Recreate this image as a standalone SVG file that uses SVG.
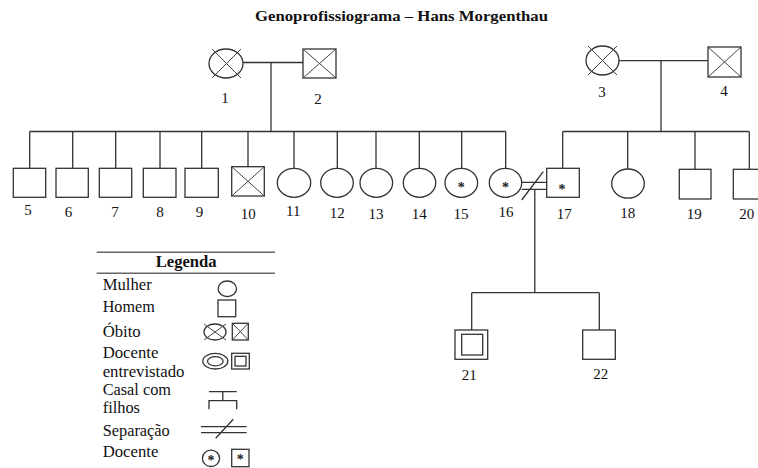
<svg xmlns="http://www.w3.org/2000/svg" width="758" height="468" viewBox="0 0 758 468">
  <style>
    .ln { stroke:#333; stroke-width:1.3; fill:none; }
    .nd { stroke:#333; stroke-width:1.3; fill:#fff; }
    .x { stroke:#444; stroke-width:1; fill:none; }
    .num { font-family:"Liberation Serif","Times New Roman",serif; font-size:15px; fill:#111; text-anchor:middle; }
    .star { font-family:"Liberation Serif","Times New Roman",serif; font-size:14px; font-weight:bold; fill:#222; text-anchor:middle; }
    .lg { font-family:"Liberation Serif","Times New Roman",serif; font-size:16px; fill:#111; }
    .title { font-family:"Liberation Serif","Times New Roman",serif; font-size:15px; font-weight:bold; fill:#111; }
  </style>

  <text class="title" x="255" y="21" textLength="293" lengthAdjust="spacingAndGlyphs">Genoprofissiograma – Hans Morgenthau</text>

  <!-- connectors -->
  <g id="connectors">
    <!-- couple 1-2 and their children -->
    <path class="ln" d="M243 62.5H303 M271 62.5V131.5 M29.7 131.5H505.7"/>
    <path class="ln" d="M29.7 131.5V168.3 M72.7 131.5V168.3 M115.7 131.5V168.3 M160 131.5V168.3 M201.7 131.5V168.3 M248 131.5V166.7 M294 131.5V168.3 M337.3 131.5V168.3 M376 131.5V168.3 M419.3 131.5V168.3 M461.7 131.5V168.3 M505.7 131.5V168.3"/>
    <!-- couple 3-4 and their children -->
    <path class="ln" d="M619 60.7H708 M661 60.7V131.5 M562.7 131.5H749.3"/>
    <path class="ln" d="M562.7 131.5V168.3 M627.7 131.5V169 M695 131.5V169.3 M749.3 131.5V169.3"/>
    <!-- separated couple 16-17 -->
    <path class="ln" d="M521.7 182.3H546.7 M521.7 189.3H546.7 M521.7 200L543.3 171.7"/>
    <!-- children of 16-17 -->
    <path class="ln" d="M534.8 189.3V292.7 M471.7 292.7H599.3 M471.7 292.7V330 M599.3 292.7V330"/>
  </g>

  <!-- first generation -->
  <g id="n1">
    <ellipse class="nd" cx="226" cy="63.5" rx="17" ry="14.5"/>
    <path class="x" d="M212 49L241 78 M241 49L212 78"/>
    <text class="num" x="225" y="103">1</text>
  </g>
  <g id="n2">
    <rect class="nd" x="303" y="49" width="33" height="29"/>
    <path class="x" d="M303 49L336 78 M336 49L303 78"/>
    <text class="num" x="318" y="104">2</text>
  </g>
  <g id="n3">
    <ellipse class="nd" cx="602.5" cy="60.5" rx="16.5" ry="14.5"/>
    <path class="x" d="M588 46L617 75 M617 46L588 75"/>
    <text class="num" x="602" y="97">3</text>
  </g>
  <g id="n4">
    <rect class="nd" x="708" y="47" width="33" height="30"/>
    <path class="x" d="M708 47L741 77 M741 47L708 77"/>
    <text class="num" x="724" y="96">4</text>
  </g>

  <!-- second generation -->
  <g id="n5"><rect class="nd" x="13.3" y="168.3" width="32.4" height="29"/><text class="num" x="28" y="214.5">5</text></g>
  <g id="n6"><rect class="nd" x="56" y="168.3" width="32.3" height="29"/><text class="num" x="68.5" y="217">6</text></g>
  <g id="n7"><rect class="nd" x="99.3" y="168.3" width="32.4" height="29"/><text class="num" x="115" y="217.3">7</text></g>
  <g id="n8"><rect class="nd" x="143.3" y="168.3" width="32.7" height="29"/><text class="num" x="160" y="217.3">8</text></g>
  <g id="n9"><rect class="nd" x="185" y="168.3" width="33.3" height="29"/><text class="num" x="199.5" y="217.3">9</text></g>
  <g id="n10">
    <rect class="nd" x="231.7" y="166.7" width="32.6" height="29.3"/>
    <path class="x" d="M231.7 166.7L264.3 196 M264.3 166.7L231.7 196"/>
    <text class="num" x="248.3" y="219.3">10</text>
  </g>
  <g id="n11"><ellipse class="nd" cx="294" cy="182.8" rx="16.7" ry="14.5"/><text class="num" x="293.3" y="216">11</text></g>
  <g id="n12"><ellipse class="nd" cx="337" cy="182.8" rx="16.3" ry="14.5"/><text class="num" x="337.3" y="217.7">12</text></g>
  <g id="n13"><ellipse class="nd" cx="376.3" cy="182.8" rx="16.3" ry="14.5"/><text class="num" x="376" y="219">13</text></g>
  <g id="n14"><ellipse class="nd" cx="419.5" cy="182.8" rx="16.2" ry="14.5"/><text class="num" x="419.3" y="219">14</text></g>
  <g id="n15">
    <ellipse class="nd" cx="461.3" cy="182.8" rx="16.3" ry="14.5"/>
    <text class="star" x="461.3" y="191.5">*</text>
    <text class="num" x="461" y="219">15</text>
  </g>
  <g id="n16">
    <ellipse class="nd" cx="505.5" cy="182.8" rx="16.2" ry="14.5"/>
    <text class="star" x="505.5" y="191.5">*</text>
    <text class="num" x="506" y="216.7">16</text>
  </g>
  <g id="n17">
    <rect class="nd" x="546.7" y="168.3" width="32.6" height="29"/>
    <text class="star" x="562" y="193.5">*</text>
    <text class="num" x="564.3" y="219">17</text>
  </g>
  <g id="n18"><ellipse class="nd" cx="628" cy="183.6" rx="16.3" ry="14.6"/><text class="num" x="627.7" y="217.7">18</text></g>
  <g id="n19"><rect class="nd" x="679.3" y="169.3" width="31.7" height="29.7"/><text class="num" x="694.3" y="219">19</text></g>
  <g id="n20"><rect class="nd" x="733.3" y="169.3" width="32" height="29.7"/><text class="num" x="746.7" y="219.3">20</text></g>

  <!-- third generation -->
  <g id="n21">
    <rect class="nd" x="455" y="330" width="32.7" height="29.3"/>
    <rect class="nd" x="461.7" y="334.3" width="21" height="20.7"/>
    <text class="num" x="469.3" y="380">21</text>
  </g>
  <g id="n22">
    <rect class="nd" x="582.7" y="330" width="32.6" height="29.3"/>
    <text class="num" x="600.7" y="379.3">22</text>
  </g>

  <!-- legend -->
  <g id="legend">
    <path d="M96.7 252.3H275 M96.7 273.3H275" stroke="#666" stroke-width="1.6" fill="none"/>
    <text class="lg" x="155.7" y="266.7" font-weight="bold" textLength="61" lengthAdjust="spacingAndGlyphs">Legenda</text>

    <text class="lg" x="102.7" y="290" textLength="49" lengthAdjust="spacingAndGlyphs">Mulher</text>
    <ellipse class="nd" cx="227.3" cy="288.8" rx="9.2" ry="7.8"/>

    <text class="lg" x="102.7" y="311.7" textLength="52" lengthAdjust="spacingAndGlyphs">Homem</text>
    <rect class="nd" x="218" y="300" width="17.7" height="16.7"/>

    <text class="lg" x="102.7" y="336.7" textLength="38" lengthAdjust="spacingAndGlyphs">Óbito</text>
    <ellipse class="nd" cx="215" cy="332" rx="11" ry="8"/>
    <path class="x" d="M204 324L226 340 M226 324L204 340"/>
    <rect class="nd" x="232.3" y="323.3" width="16" height="16.7"/>
    <path class="x" d="M232.3 323.3L248.3 340 M248.3 323.3L232.3 340"/>

    <text class="lg" x="102.7" y="358.3" textLength="55.7" lengthAdjust="spacingAndGlyphs">Docente</text>
    <text class="lg" x="102.7" y="376.7" textLength="81.7" lengthAdjust="spacingAndGlyphs">entrevistado</text>
    <ellipse class="nd" cx="215.3" cy="361.2" rx="12.5" ry="7.8"/>
    <ellipse class="nd" cx="215.3" cy="361.2" rx="7.8" ry="4.6"/>
    <rect class="nd" x="231.7" y="353.3" width="17.6" height="15.7"/>
    <rect class="nd" x="235" y="356.3" width="11" height="9.7"/>

    <text class="lg" x="102.7" y="395" textLength="68.3" lengthAdjust="spacingAndGlyphs">Casal com</text>
    <text class="lg" x="102.7" y="413.3" textLength="37.3" lengthAdjust="spacingAndGlyphs">filhos</text>
    <path class="ln" d="M209 391.7H236.7 M222.8 391.7V400.7 M209 409.3V400.7H236.7V409.3"/>

    <text class="lg" x="102.7" y="436" textLength="67" lengthAdjust="spacingAndGlyphs">Separação</text>
    <path class="ln" d="M201 426.7H246.7 M201 432.7H246.7 M215.7 438.3L233.3 419.3"/>

    <text class="lg" x="102.7" y="456.7" textLength="55.7" lengthAdjust="spacingAndGlyphs">Docente</text>
    <ellipse class="nd" cx="211" cy="458.3" rx="8.6" ry="8.2"/>
    <text class="star" x="211" y="464.5" font-size="11">*</text>
    <rect class="nd" x="231.7" y="449.3" width="17.3" height="17.4"/>
    <text class="star" x="240.3" y="463.5" font-size="11">*</text>
  </g>
</svg>
